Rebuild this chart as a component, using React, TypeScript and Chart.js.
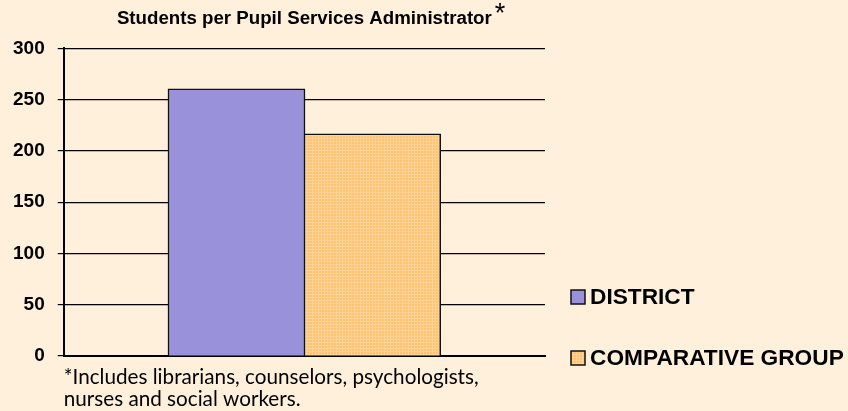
import React, { useEffect, useRef } from "react";
import { Chart, registerables } from "chart.js";

Chart.register(...registerables);

const categories = [""];
const seriesLabels = ["DISTRICT", "COMPARATIVE GROUP"];
const districtValues = [260];
const comparativeValues = [216];
const yTickValues = [0, 50, 100, 150, 200, 250, 300];
const chartTitle = "Students per Pupil Services Administrator";
const titleMark = "*";
const footnoteLines = [
  "*Includes librarians, counselors, psychologists,",
  "nurses and social workers.",
];

const BG = "#FFF0DC";
const DISTRICT_COLOR = "#9A91DB";
const TITLE_FONT = { family: "'Liberation Sans', Arial, sans-serif", weight: "bold" as const, size: 18.7 };

function makePattern(): CanvasPattern | string {
  const c = document.createElement("canvas");
  c.width = 3;
  c.height = 3;
  const g = c.getContext("2d");
  if (!g) return "#FFC878";
  g.fillStyle = "#FEC272";
  g.fillRect(0, 0, 3, 3);
  g.fillStyle = "#FFD394";
  g.fillRect(0, 0, 3, 1);
  g.fillRect(0, 0, 1, 3);
  const p = g.createPattern(c, "repeat");
  return p || "#FFC878";
}

const backgroundPlugin = {
  id: "bgFill",
  beforeDraw(chart: any) {
    const { ctx, width, height } = chart;
    ctx.save();
    ctx.fillStyle = BG;
    ctx.fillRect(0, 0, width, height);
    ctx.restore();
  },
};

const titleMarkPlugin = {
  id: "titleMark",
  afterDraw(chart: any) {
    const tb = chart.titleBlock;
    if (!tb) return;
    const { ctx } = chart;
    ctx.save();
    ctx.font = `bold ${TITLE_FONT.size}px ${TITLE_FONT.family}`;
    const w = ctx.measureText(chartTitle).width;
    const cx = (tb.left + tb.right) / 2;
    ctx.font = `27px ${TITLE_FONT.family}`;
    ctx.fillStyle = "#000";
    ctx.textBaseline = "top";
    ctx.textAlign = "left";
    ctx.fillText(titleMark, cx + w / 2 + 3, 1);
    ctx.restore();
  },
};

const sideLegendPlugin = {
  id: "sideLegend",
  afterDraw(chart: any) {
    const { ctx, chartArea } = chart;
    const box = 14;
    const spacing = 61;
    const n = chart.data.datasets.length;
    ctx.save();
    ctx.font = "bold 22.7px 'Liberation Sans', Arial, sans-serif";
    ctx.textBaseline = "middle";
    ctx.textAlign = "left";
    chart.data.datasets.forEach((ds: any, i: number) => {
      const cy = chartArea.bottom + 2 - (n - 1 - i) * spacing;
      const x = chartArea.right + 26;
      ctx.fillStyle = ds.backgroundColor;
      ctx.fillRect(x, cy - box / 2, box, box);
      ctx.lineWidth = 1.5;
      ctx.strokeStyle = "#111";
      ctx.strokeRect(x, cy - box / 2, box, box);
      ctx.fillStyle = "#000";
      ctx.fillText(ds.label, x + box + 5, cy + 1);
    });
    ctx.restore();
  },
};

export default function App() {
  const ref = useRef<HTMLCanvasElement | null>(null);

  useEffect(() => {
    document.body.style.margin = "0";
    document.body.style.background = BG;
    const canvas = ref.current;
    if (!canvas) return;
    const pattern = makePattern();
    const chart = new Chart(canvas, {
      type: "bar",
      data: {
        labels: categories,
        datasets: [
          {
            label: seriesLabels[0],
            data: districtValues,
            backgroundColor: DISTRICT_COLOR,
            borderColor: "#111",
            borderWidth: 1.5,
            inflateAmount: 1,
          },
          {
            label: seriesLabels[1],
            data: comparativeValues,
            backgroundColor: pattern as any,
            borderColor: "#111",
            borderWidth: 1.5,
            inflateAmount: 1,
          },
        ],
      },
      options: {
        responsive: false,
        animation: false,
        layout: { padding: { left: 0, right: 303, top: 0, bottom: 1 } },
        datasets: {
          bar: { categoryPercentage: 0.564, barPercentage: 1.0 },
        },
        plugins: {
          legend: { display: false },
          tooltip: { enabled: false },
          title: {
            display: true,
            text: chartTitle,
            fullSize: false,
            color: "#000",
            font: TITLE_FONT,
            padding: { top: 8, bottom: 18 },
          },
        },
        scales: {
          x: {
            type: "category",
            grid: { display: false, drawTicks: false },
            ticks: { display: false },
            border: { display: true, color: "#000", width: 2 },
            title: {
              display: true,
              text: footnoteLines,
              align: "start",
              color: "#000",
              font: { family: "Lato, 'Open Sans', sans-serif", size: 20.7, lineHeight: "22px" as any },
              padding: { top: 10, bottom: 0 },
            },
          },
          y: {
            min: yTickValues[0],
            max: yTickValues[yTickValues.length - 1],
            ticks: {
              stepSize: yTickValues[1] - yTickValues[0],
              color: "#000",
              padding: 13,
              font: { family: "'Liberation Sans', Arial, sans-serif", weight: "bold", size: 19 },
            },
            grid: { color: "#000", lineWidth: 1.2, tickLength: 6, drawTicks: true },
            border: { display: true, color: "#000", width: 2 },
          },
        },
      },
      plugins: [backgroundPlugin, titleMarkPlugin, sideLegendPlugin],
    });
    return () => chart.destroy();
  }, []);

  return (
    <div style={{ width: 848, height: 411 }}>
      <canvas ref={ref} width={848} height={411} style={{ display: "block" }} />
    </div>
  );
}
